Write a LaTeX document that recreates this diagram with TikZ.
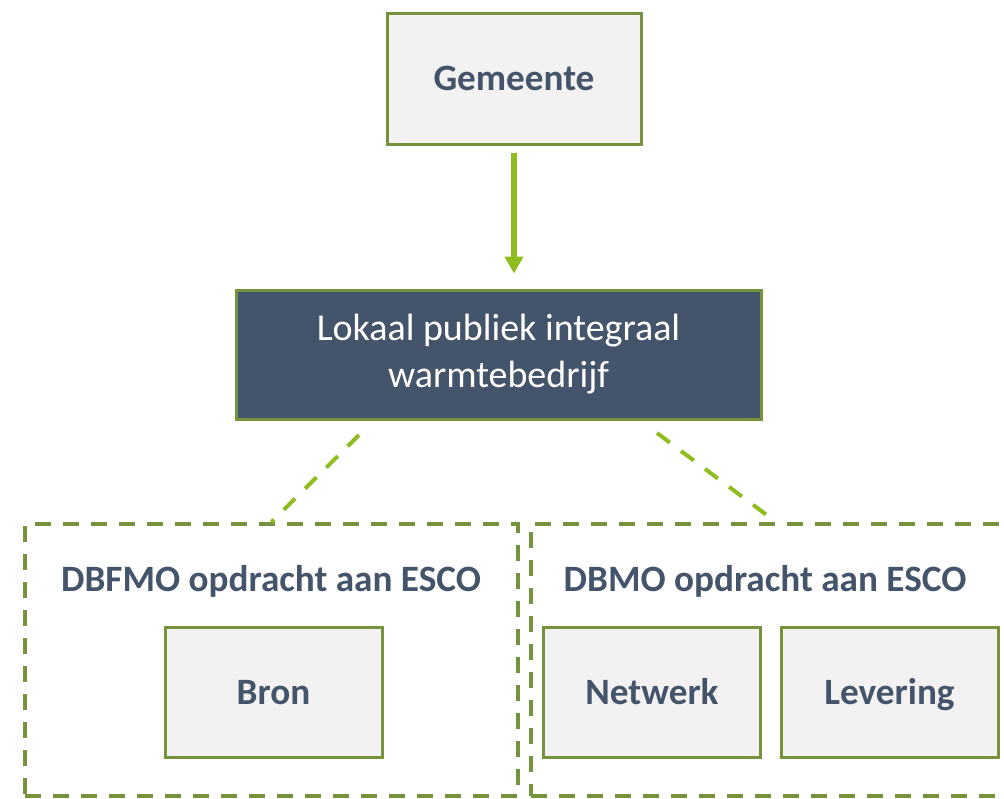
\documentclass[tikz,border=0pt]{standalone}
\usepackage{fontspec}
\setmainfont{Carlito}
\usetikzlibrary{arrows.meta,positioning}

\definecolor{slate}{HTML}{44546A}
\definecolor{boxfill}{HTML}{F2F2F2}
\definecolor{olivegreen}{HTML}{76923C}
\definecolor{limegreen}{HTML}{8FBC1E}

\begin{document}
\begin{tikzpicture}[x=0.5pt, y=-0.5pt,
    box/.style={draw=olivegreen, line width=1.5pt, fill=boxfill, text=slate,
        font=\bfseries\fontsize{18.6}{23}\selectfont,
        text height=13pt, text depth=1pt,
        minimum width=108.5pt, minimum height=65pt},
    groupbox/.style={draw=olivegreen, line width=2pt, dash pattern=on 8pt off 6pt,
        minimum width=246.5pt, minimum height=136pt},
    grouptitle/.style={text=slate, font=\bfseries\fontsize{18.6}{23}\selectfont},
    link/.style={draw=limegreen, line width=2pt, dash pattern=on 8pt off 7pt},
]
    \useasboundingbox (0,0) rectangle (1004,798);

    \node[box, minimum width=127pt, minimum height=65.5pt] (gemeente) at (514,78.5) {Gemeente};
    \node[box, fill=slate, text=white, font=\fontsize{19}{23.5}\selectfont, align=center,
        text height=, text depth=,
        minimum width=262.5pt, minimum height=64.5pt] (warmtebedrijf) at (498.5,354.5)
        {Lokaal publiek integraal\\warmtebedrijf};

    \draw[draw=limegreen, line width=3pt, -{Triangle[width=9pt,length=8.5pt]},
        shorten <=3.5pt, shorten >=7.5pt]
        (gemeente.south) -- (gemeente.south |- warmtebedrijf.north);

    % uitbesteding
    \node[groupbox] (dbfmo) at (271.5,660) {};
    \node[groupbox, minimum width=245pt] (dbmo) at (776,660) {};
    \node[grouptitle] (dbfmo_title) at (271,581) {DBFMO opdracht aan ESCO};
    \node[grouptitle] (dbmo_title) at (765,581) {DBMO opdracht aan ESCO};

    \node[box] (bron) at (273.5,692) {Bron};
    \node[box] (netwerk) at (652,692) {Netwerk};
    \node[box] (levering) at (889.5,692) {Levering};

    \coordinate (split_left) at (359,435);
    \coordinate (split_right) at (657,433);
    \draw[link] (split_left) -- (dbfmo.north);
    \draw[link] (split_right) -- (dbmo.north);

\end{tikzpicture}
\end{document}
